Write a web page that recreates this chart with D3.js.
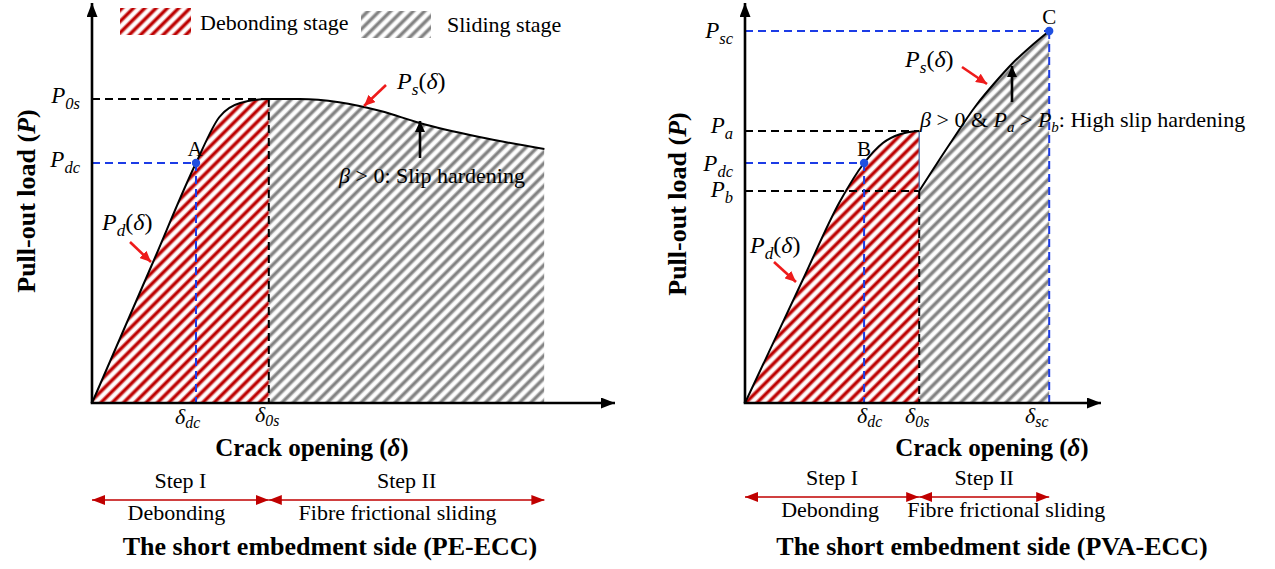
<!DOCTYPE html>
<html>
<head>
<meta charset="utf-8">
<script src="https://cdn.jsdelivr.net/npm/d3@7/dist/d3.min.js"></script>
<style>
  body { margin: 0; background: #fff; }
  svg { display: block; }
  text { font-family: "Liberation Serif", "Times New Roman", serif; fill: #000; }
</style>
</head>
<body>
<svg id="fig" width="1275" height="569"></svg>
<script>
// ---------- data (crack opening δ, pull-out load P, arbitrary units) ----------
// PE-ECC: debonding branch followed by slip-hardening sliding branch
const peDelta = [0, 1.15, 2.0, 2.45, 2.85, 3.4, 4.0, 4.75, 5.55, 6.3, 7.45, 8.7];
const peLoad  = [0, 3.45, 6.0, 7.15, 7.5, 7.6, 7.6, 7.52, 7.3, 7.0, 6.65, 6.35];
const peDeltaDc = 2.0, peDelta0s = 3.4, peDeltaEnd = 8.7;
const pePdc = 6.0, peP0s = 7.6;

// PVA-ECC: debonding branch, load drop, then high slip-hardening branch
const pvaDebondDelta = [0, 1.1, 1.83, 2.29, 2.65, 2.98, 3.35];
const pvaDebondLoad  = [0, 3.05, 5.05, 6.0, 6.5, 6.72, 6.8];
const pvaSlideDelta  = [3.35, 3.95, 4.45, 4.8, 5.15, 5.5, 5.85];
const pvaSlideLoad   = [5.3, 6.5, 7.45, 8.0, 8.5, 8.92, 9.3];
const pvaDeltaDc = 2.29, pvaDelta0s = 3.35, pvaDeltaSc = 5.85;
const pvaPdc = 6.0, pvaPa = 6.8, pvaPb = 5.3, pvaPsc = 9.3;

// axis tick labels: [symbol, subscript, value]
const peYTicks  = [["P", "0s", peP0s], ["P", "dc", pePdc]];
const peXTicks  = [["δ", "dc", peDeltaDc], ["δ", "0s", peDelta0s]];
const pvaYTicks = [["P", "sc", pvaPsc], ["P", "a", pvaPa], ["P", "dc", pvaPdc], ["P", "b", pvaPb]];
const pvaXTicks = [["δ", "dc", pvaDeltaDc], ["δ", "0s", pvaDelta0s], ["δ", "sc", pvaDeltaSc]];

const legendLabels = ["Debonding stage", "Sliding stage"];
const stepTitles = ["Step I", "Step II"];
const stepNames = ["Debonding", "Fibre frictional sliding"];
const panelTitles = ["The short embedment side (PE-ECC)", "The short embedment side (PVA-ECC)"];

// ---------- scales ----------
const xPE  = d3.scaleLinear().domain([0, 10]).range([92, 612]);
const yPE  = d3.scaleLinear().domain([0, 10]).range([403, 3]);
const xPVA = d3.scaleLinear().domain([0, 10]).range([745, 1265]);
const yPVA = d3.scaleLinear().domain([0, 10]).range([403, 3]);

const svg = d3.select("#fig");
const defs = svg.append("defs");

// ---------- hatch patterns ----------
function hatch(id, color) {
  const gid = id + "Grad";
  const g = defs.append("linearGradient").attr("id", gid)
    .attr("x1", 0).attr("x2", 1).attr("y1", 0).attr("y2", 0);
  [[0, "#fff"], [0.17, "#fff"], [0.41, color], [0.61, color], [0.85, "#fff"], [1, "#fff"]]
    .forEach(([o, c]) => g.append("stop").attr("offset", o).attr("stop-color", c));
  const p = defs.append("pattern").attr("id", id)
    .attr("patternUnits", "userSpaceOnUse")
    .attr("width", 8).attr("height", 8)
    .attr("patternTransform", "rotate(45)");
  p.append("rect").attr("width", 8).attr("height", 8).attr("fill", `url(#${gid})`);
}
hatch("hatchRed", "#bd0000");
hatch("hatchGray", "#828282");

// ---------- arrow markers ----------
function marker(id, color, len, wid) {
  defs.append("marker").attr("id", id)
    .attr("viewBox", `0 0 ${len} ${wid}`)
    .attr("refX", len).attr("refY", wid / 2)
    .attr("markerWidth", len).attr("markerHeight", wid)
    .attr("markerUnits", "userSpaceOnUse")
    .attr("orient", "auto-start-reverse")
    .append("path").attr("d", `M0,0L${len},${wid / 2}L0,${wid}Z`).attr("fill", color);
}
marker("axisHead", "#000", 14, 11);
marker("blackHead", "#000", 11, 10);
marker("redHead", "#ee1b1b", 11, 10);
marker("stepHead", "#c00000", 13, 10);

// ---------- helpers ----------
function subLabel(g, x, y, sym, sub, size, anchor, drop) {
  const off = drop === undefined ? size * 0.25 : drop;
  const t = g.append("text").attr("x", x).attr("y", y)
    .attr("font-size", size).attr("text-anchor", anchor || "start");
  t.append("tspan").attr("font-style", "italic").text(sym);
  t.append("tspan").attr("font-style", "italic").attr("font-size", size * 0.72)
    .attr("dy", off).text(sub);
  return t;
}
function funcLabel(g, x, y, sub) {
  const size = 24;
  const t = g.append("text").attr("x", x).attr("y", y).attr("font-size", size);
  t.append("tspan").attr("font-style", "italic").text("P");
  t.append("tspan").attr("font-style", "italic").attr("font-size", size * 0.72)
    .attr("dy", size * 0.25).text(sub);
  t.append("tspan").attr("dy", -size * 0.25).text("(");
  t.append("tspan").attr("font-style", "italic").text("δ");
  t.append("tspan").text(")");
}
function arrow(g, x1, y1, x2, y2, color, head, w) {
  g.append("line").attr("x1", x1).attr("y1", y1).attr("x2", x2).attr("y2", y2)
    .attr("stroke", color).attr("stroke-width", w).attr("marker-end", `url(#${head})`);
}
function dashed(g, x1, y1, x2, y2, color) {
  g.append("line").attr("x1", x1).attr("y1", y1).attr("x2", x2).attr("y2", y2)
    .attr("stroke", color).attr("stroke-width", 2).attr("stroke-dasharray", "8,5");
}
function axes(g, x0, y0, xEnd, yTop) {
  g.append("line").attr("x1", x0).attr("y1", y0).attr("x2", x0).attr("y2", yTop)
    .attr("stroke", "#000").attr("stroke-width", 2.6).attr("marker-end", "url(#axisHead)");
  g.append("line").attr("x1", x0 - 1.3).attr("y1", y0).attr("x2", xEnd).attr("y2", y0)
    .attr("stroke", "#000").attr("stroke-width", 2.6).attr("marker-end", "url(#axisHead)");
}
function axisTitles(g, cx, yLabelX, yLabelY) {
  const xt = g.append("text").attr("x", cx).attr("y", 456).attr("text-anchor", "middle")
    .attr("font-size", 25).attr("font-weight", "bold");
  xt.append("tspan").text("Crack opening (");
  xt.append("tspan").attr("font-style", "italic").text("δ");
  xt.append("tspan").text(")");
  const yt = g.append("text").attr("transform", `translate(${yLabelX},${yLabelY}) rotate(-90)`)
    .attr("text-anchor", "middle").attr("font-size", 26).attr("font-weight", "bold");
  yt.append("tspan").text("Pull-out load (");
  yt.append("tspan").attr("font-style", "italic").text("P");
  yt.append("tspan").text(")");
}
function steps(g, xa, xb, xc, y, nameNudge) {
  const line = (x1, x2) => g.append("line").attr("x1", x1).attr("y1", y).attr("x2", x2).attr("y2", y)
    .attr("stroke", "#c00000").attr("stroke-width", 1.4)
    .attr("marker-start", "url(#stepHead)").attr("marker-end", "url(#stepHead)");
  line(xa, xb); line(xb, xc);
  const mids = [(xa + xb) / 2, (xb + xc) / 2];
  stepTitles.forEach((s, i) => g.append("text").attr("x", mids[i]).attr("y", y - 12)
    .attr("text-anchor", "middle").attr("font-size", 22).text(s));
  stepNames.forEach((s, i) => g.append("text").attr("x", mids[i] + nameNudge[i]).attr("y", y + 20)
    .attr("text-anchor", "middle").attr("font-size", 22).text(s));
}
const pt = d => ({ d: d[0], p: d[1] });

// ================= PE-ECC panel =================
const gL = svg.append("g");
const peData = d3.zip(peDelta, peLoad).map(pt);
const peArea = d3.area().curve(d3.curveMonotoneX)
  .x(d => xPE(d.d)).y0(yPE(0)).y1(d => yPE(d.p));
const peLine = d3.line().curve(d3.curveMonotoneX).x(d => xPE(d.d)).y(d => yPE(d.p));

defs.append("clipPath").attr("id", "peDebondClip").append("rect")
  .attr("x", xPE(0)).attr("y", 0).attr("width", xPE(peDelta0s) - xPE(0)).attr("height", 569);
defs.append("clipPath").attr("id", "peSlideClip").append("rect")
  .attr("x", xPE(peDelta0s)).attr("y", 0).attr("width", xPE(peDeltaEnd) - xPE(peDelta0s)).attr("height", 569);

gL.append("path").datum(peData).attr("d", peArea).attr("fill", "url(#hatchRed)")
  .attr("clip-path", "url(#peDebondClip)");
gL.append("path").datum(peData).attr("d", peArea).attr("fill", "url(#hatchGray)")
  .attr("clip-path", "url(#peSlideClip)");

dashed(gL, xPE(0), yPE(peP0s), xPE(peDelta0s), yPE(peP0s), "#000");
dashed(gL, xPE(peDelta0s), yPE(peP0s), xPE(peDelta0s), yPE(0), "#000");
dashed(gL, xPE(0), yPE(pePdc), xPE(peDeltaDc), yPE(pePdc), "#1c3ce6");
dashed(gL, xPE(peDeltaDc), yPE(pePdc), xPE(peDeltaDc), yPE(0), "#1c3ce6");

gL.append("path").datum(peData).attr("d", peLine).attr("fill", "none")
  .attr("stroke", "#000").attr("stroke-width", 2);

axes(gL, xPE(0), yPE(0), 615, 3);

gL.append("circle").attr("cx", xPE(peDeltaDc)).attr("cy", yPE(pePdc)).attr("r", 4.2).attr("fill", "#1f4fe0");
gL.append("text").attr("x", xPE(peDeltaDc) - 1).attr("y", 156).attr("text-anchor", "middle")
  .attr("font-size", 21).text("A");

peYTicks.forEach(([s, sub, v]) => subLabel(gL, 80, yPE(v) + 4, s, sub, 23, "end"));
subLabel(gL, 175, 424, peXTicks[0][0], peXTicks[0][1], 22, "start", 4);
subLabel(gL, 255, 422, peXTicks[1][0], peXTicks[1][1], 22, "start", 4);

funcLabel(gL, 397, 89, "s");
arrow(gL, 386, 85, 364, 106, "#ee1b1b", "redHead", 2.6);
funcLabel(gL, 102, 230, "d");
arrow(gL, 130, 242, 151, 262, "#ee1b1b", "redHead", 2.6);
arrow(gL, 420, 158, 420, 121, "#000", "blackHead", 2.6);

const bL = gL.append("text").attr("x", 339).attr("y", 183).attr("font-size", 22);
bL.append("tspan").attr("font-style", "italic").text("β");
bL.append("tspan").text(" > 0: Slip hardening");

// legend
gL.append("rect").attr("x", 120).attr("y", 8).attr("width", 71).attr("height", 27).attr("fill", "url(#hatchRed)");
gL.append("text").attr("x", 200).attr("y", 30).attr("font-size", 22).text(legendLabels[0]);
gL.append("rect").attr("x", 361).attr("y", 11).attr("width", 70).attr("height", 27).attr("fill", "url(#hatchGray)");
gL.append("text").attr("x", 447).attr("y", 32).attr("font-size", 22).text(legendLabels[1]);

axisTitles(gL, 312, 35, 201);
steps(gL, xPE(0), xPE(peDelta0s), xPE(peDeltaEnd), 500, [-4, -9]);
gL.append("text").attr("x", 330).attr("y", 555).attr("text-anchor", "middle")
  .attr("font-size", 26).attr("font-weight", "bold").text(panelTitles[0]);

// ================= PVA-ECC panel =================
const gR = svg.append("g");
const pvaDebond = d3.zip(pvaDebondDelta, pvaDebondLoad).map(pt);
const pvaSlide = d3.zip(pvaSlideDelta, pvaSlideLoad).map(pt);
const pvaArea = d3.area().curve(d3.curveMonotoneX)
  .x(d => xPVA(d.d)).y0(yPVA(0)).y1(d => yPVA(d.p));
const pvaLine = d3.line().curve(d3.curveMonotoneX).x(d => xPVA(d.d)).y(d => yPVA(d.p));

gR.append("path").datum(pvaDebond).attr("d", pvaArea).attr("fill", "url(#hatchRed)");
gR.append("path").datum(pvaSlide).attr("d", pvaArea).attr("fill", "url(#hatchGray)");

dashed(gR, xPVA(0), yPVA(pvaPa), xPVA(pvaDelta0s), yPVA(pvaPa), "#000");
dashed(gR, xPVA(0), yPVA(pvaPb), xPVA(pvaDelta0s), yPVA(pvaPb), "#000");
dashed(gR, xPVA(pvaDelta0s), yPVA(pvaPb), xPVA(pvaDelta0s), yPVA(0), "#000");
dashed(gR, xPVA(0), yPVA(pvaPsc), xPVA(pvaDeltaSc), yPVA(pvaPsc), "#1c3ce6");
dashed(gR, xPVA(pvaDeltaSc), yPVA(pvaPsc), xPVA(pvaDeltaSc), yPVA(0), "#1c3ce6");
dashed(gR, xPVA(0), yPVA(pvaPdc), xPVA(pvaDeltaDc), yPVA(pvaPdc), "#1c3ce6");
dashed(gR, xPVA(pvaDeltaDc), yPVA(pvaPdc), xPVA(pvaDeltaDc), yPVA(0), "#1c3ce6");

// load drop at the end of debonding
gR.append("line").attr("x1", xPVA(pvaDelta0s)).attr("y1", yPVA(pvaPa))
  .attr("x2", xPVA(pvaDelta0s)).attr("y2", yPVA(pvaPb))
  .attr("stroke", "#4a6fa8").attr("stroke-width", 1.3);

gR.append("path").datum(pvaDebond).attr("d", pvaLine).attr("fill", "none")
  .attr("stroke", "#000").attr("stroke-width", 2);
gR.append("path").datum(pvaSlide).attr("d", pvaLine).attr("fill", "none")
  .attr("stroke", "#000").attr("stroke-width", 2);

axes(gR, xPVA(0), yPVA(0), 1101, 3);

gR.append("circle").attr("cx", xPVA(pvaDeltaDc)).attr("cy", yPVA(pvaPdc)).attr("r", 4.2).attr("fill", "#1f4fe0");
gR.append("circle").attr("cx", xPVA(pvaDeltaSc)).attr("cy", yPVA(pvaPsc)).attr("r", 4.2).attr("fill", "#1f4fe0");
gR.append("text").attr("x", xPVA(pvaDeltaDc)).attr("y", 156).attr("text-anchor", "middle")
  .attr("font-size", 21).text("B");
gR.append("text").attr("x", xPVA(pvaDeltaSc)).attr("y", 24).attr("text-anchor", "middle")
  .attr("font-size", 21).text("C");

const pvaTickNudge = [7, 2, 8, 6];
pvaYTicks.forEach(([s, sub, v], i) => subLabel(gR, 733, yPVA(v) + pvaTickNudge[i], s, sub, 23, "end"));
const pvaTickX = [857, 905, 1025];
pvaXTicks.forEach(([s, sub], i) => subLabel(gR, pvaTickX[i], 423, s, sub, 22, "start", 4));

funcLabel(gR, 905, 67, "s");
arrow(gR, 962, 67, 987, 84, "#ee1b1b", "redHead", 2.6);
funcLabel(gR, 750, 253, "d");
arrow(gR, 774, 262, 796, 282, "#ee1b1b", "redHead", 2.6);
arrow(gR, 1012, 102, 1012, 66, "#000", "blackHead", 2.6);

const bR = gR.append("text").attr("x", 920).attr("y", 127).attr("font-size", 22);
bR.append("tspan").attr("font-style", "italic").text("β");
bR.append("tspan").text(" > 0 & ");
bR.append("tspan").attr("font-style", "italic").text("P");
bR.append("tspan").attr("font-style", "italic").attr("font-size", 15).attr("dy", 5).text("a");
bR.append("tspan").attr("dy", -5).text(" > ");
bR.append("tspan").attr("font-style", "italic").text("P");
bR.append("tspan").attr("font-style", "italic").attr("font-size", 15).attr("dy", 5).text("b");
bR.append("tspan").attr("dy", -5).text(": High slip hardening");

axisTitles(gR, 992, 686, 204);
steps(gR, xPVA(0), xPVA(pvaDelta0s), xPVA(pvaDeltaSc), 497, [-2, 22]);
gR.append("text").attr("x", 992).attr("y", 555).attr("text-anchor", "middle")
  .attr("font-size", 26).attr("font-weight", "bold").text(panelTitles[1]);
</script>
</body>
</html>
